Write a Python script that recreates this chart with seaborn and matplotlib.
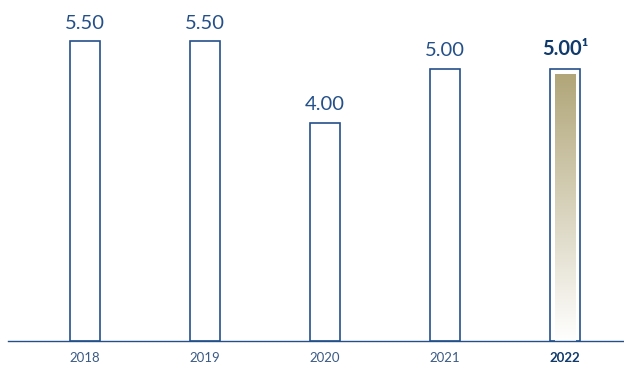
import numpy as np
import pandas as pd
import matplotlib
matplotlib.use("Agg")
import matplotlib.pyplot as plt
from matplotlib.colors import LinearSegmentedColormap
import seaborn as sns

years = ["2018", "2019", "2020", "2021", "2022"]
values = [5.50, 5.50, 4.00, 5.00, 5.00]
labels = ["5.50", "5.50", "4.00", "5.00", "5.00¹"]

sns.set_style("white")
plt.rcParams["font.family"] = ["Lato", "DejaVu Sans"]

navy = "#24508a"
dark = "#0f3a6b"

fig = plt.figure(figsize=(6.24, 3.67), dpi=100)
ax = fig.add_axes([8 / 624, 26 / 367, 616 / 624, 341 / 367])

df = pd.DataFrame({"year": years, "value": values})
sns.barplot(data=df, x="year", y="value", ax=ax, color="white",
            edgecolor=navy, linewidth=1.2, width=0.258, saturation=1)

ax.set_xlim(-0.6417, 4.4917)
ax.set_ylim(0, 6.257)

# gradient fill in last bar
cmap = LinearSegmentedColormap.from_list("g", ["#ffffff", "#b1a679"])
grad = np.linspace(0, 1, 256).reshape(-1, 1)
inset_x = 5 / 120
inset_top = 5.5 / 54.5
last = len(values) - 1
half = 0.258 / 2
ax.imshow(grad, aspect="auto", cmap=cmap, origin="lower",
          extent=(last - half + inset_x, last + half - inset_x, 0, values[last] - inset_top),
          zorder=3)

for i, (v, lab) in enumerate(zip(values, labels)):
    bold = i == last
    ax.annotate(lab, (i, v), xytext=(0, 7), textcoords="offset points",
                ha="center", va="bottom", fontsize=14.5,
                color=dark if bold else navy,
                fontweight="bold" if bold else "normal")

for s in ["top", "right", "left"]:
    ax.spines[s].set_visible(False)
ax.spines["bottom"].set_color(navy)
ax.spines["bottom"].set_linewidth(1.0)
ax.spines["bottom"].set_zorder(4)
ax.set_yticks([])
ax.set_xlabel("")
ax.set_ylabel("")
ax.tick_params(axis="x", length=0, pad=8, labelsize=9.5, labelcolor="#3b5b85")
for i, t in enumerate(ax.get_xticklabels()):
    if i == last:
        t.set_fontweight("bold")
        t.set_color(dark)

fig.savefig("out.png", dpi=100)
